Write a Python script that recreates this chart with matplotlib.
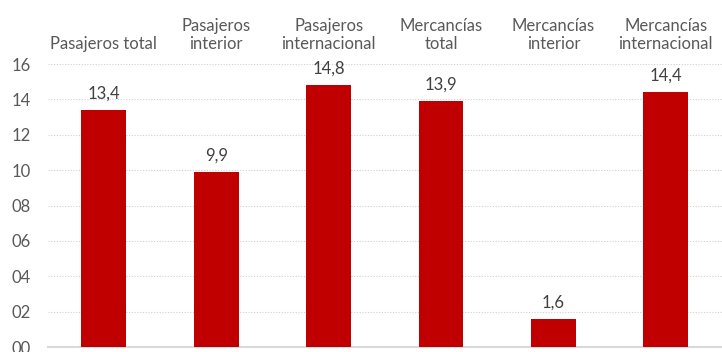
import matplotlib.pyplot as plt
from matplotlib.ticker import FuncFormatter

# data
categories = ["Pasajeros total", "Pasajeros\ninterior", "Pasajeros\ninternacional",
              "Mercancías\ntotal", "Mercancías\ninterior", "Mercancías\ninternacional"]
values = [13.4, 9.9, 14.8, 13.9, 1.6, 14.4]
yticks = [0, 2, 4, 6, 8, 10, 12, 14, 16]

plt.rcParams['font.family'] = ['Lato', 'DejaVu Sans']

fig = plt.figure(figsize=(7.22, 3.52), dpi=100)
ax = fig.add_axes([0.066, 0.014, 0.934, 0.804])

x = range(len(values))
bars = ax.bar(x, values, width=0.4, color="#C00000", zorder=3)

for i, v in enumerate(values):
    ax.annotate(f"{v:.1f}".replace(".", ","), (i, v), xytext=(0, 6),
                textcoords="offset points", ha="center", va="bottom",
                fontsize=12, color="#404040")

# category labels on top
for i, c in enumerate(categories):
    ax.annotate(c, (i, 1), xycoords=ax.get_xaxis_transform(), xytext=(0, 9),
                textcoords="offset points", ha="center", va="bottom",
                fontsize=12, color="#595959", linespacing=1.1)

ax.set_xlim(-0.5, len(values) - 0.5)
ax.set_ylim(0, 16)
ax.set_yticks(yticks)
ax.yaxis.set_major_formatter(FuncFormatter(lambda v, p: f"{int(v):02d}"))
ax.set_xticks([])
ax.tick_params(axis="y", length=0, labelsize=12, labelcolor="#595959", pad=12)
ax.grid(axis="y", linestyle=(0, (1, 1.5)), color="#D0D0D0", linewidth=0.8, zorder=0)

for s in ["top", "right", "left"]:
    ax.spines[s].set_visible(False)
ax.spines["bottom"].set_color("#D9D9D9")
ax.spines["bottom"].set_linewidth(1.5)

fig.savefig("out.png", dpi=100)
